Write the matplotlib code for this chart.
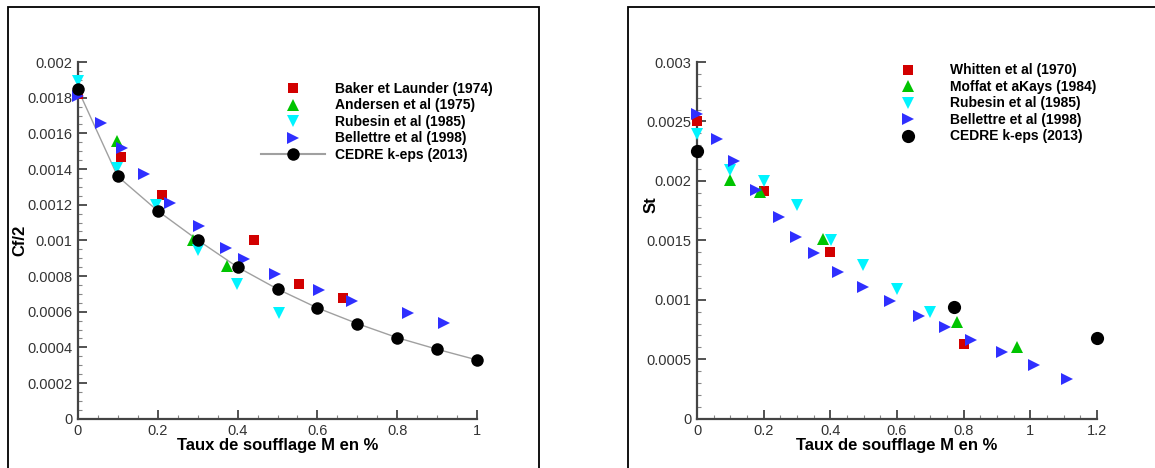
import matplotlib
matplotlib.use("Agg")
import matplotlib.pyplot as plt
from matplotlib.lines import Line2D
from matplotlib.patches import Rectangle
from matplotlib.ticker import MultipleLocator, FuncFormatter

plt.rcParams['font.family'] = ['Liberation Sans', 'DejaVu Sans']

# ---- left panel: Cf/2 ----
baker_x = [0.0, 0.108, 0.21, 0.44, 0.553, 0.663]
baker_y = [0.00182, 0.001465, 0.001252, 0.001000, 0.000757, 0.000677]
andersen_x = [0.098, 0.289, 0.373]
andersen_y = [0.001555, 0.001004, 0.000854]
rubesin_l_x = [0.0, 0.098, 0.197, 0.30, 0.399, 0.505]
rubesin_l_y = [0.001895, 0.001406, 0.001196, 0.000948, 0.000755, 0.000593]
bell_l_x = [0.0, 0.059, 0.11, 0.166, 0.232, 0.304, 0.372, 0.416, 0.494,
            0.604, 0.687, 0.827, 0.917]
bell_l_y = [0.001811, 0.001658, 0.001518, 0.001372, 0.001209, 0.001082,
            0.000957, 0.000893, 0.000813, 0.000723, 0.000658, 0.000591,
            0.000538]
cedre_l_x = [0.0, 0.1, 0.2, 0.3, 0.4, 0.5, 0.6, 0.7, 0.8, 0.9, 1.0]
cedre_l_y = [0.001849, 0.001359, 0.001166, 0.001002, 0.000850, 0.000727,
             0.000621, 0.000533, 0.000454, 0.000389, 0.000329]

# ---- right panel: St ----
whitten_x = [0.0, 0.20, 0.40, 0.80]
whitten_y = [0.002501, 0.001912, 0.001402, 0.000628]
moffat_x = [0.099, 0.189, 0.378, 0.779, 0.959]
moffat_y = [0.002010, 0.001904, 0.001514, 0.000813, 0.000606]
rubesin_r_x = [0.0, 0.099, 0.20, 0.299, 0.401, 0.499, 0.599, 0.698]
rubesin_r_y = [0.002397, 0.002094, 0.001996, 0.001794, 0.001500, 0.001295,
               0.001091, 0.000897]
bell_r_x = [0.0, 0.059, 0.111, 0.176, 0.246, 0.298, 0.352, 0.422, 0.497,
            0.578, 0.667, 0.745, 0.822, 0.914, 1.010, 1.110]
bell_r_y = [0.002565, 0.002355, 0.002167, 0.001926, 0.001699, 0.001528,
            0.001391, 0.001236, 0.001105, 0.000993, 0.000866, 0.000768,
            0.000664, 0.000561, 0.000454, 0.000336]
cedre_r_x = [0.0, 0.77, 1.2]
cedre_r_y = [0.002249, 0.000936, 0.000679]

RED = '#d20000'
GREEN = '#00c400'
CYAN = '#00f4ff'
BLUE = '#2f2fff'
AXC = '#444444'

fig = plt.figure(figsize=(11.55, 4.68), dpi=100)

# panel frames
for x0, w in [(8, 531), (628, 540)]:
    fig.patches.append(Rectangle((x0 / 1155, -0.05), w / 1155, (468 - 7) / 468 + 0.05,
                                 transform=fig.transFigure, fill=False,
                                 edgecolor='black', linewidth=1.3))

axl = fig.add_axes([77.7 / 1155, 1 - 418.7 / 468, 399.6 / 1155, 356.7 / 468])
axr = fig.add_axes([697 / 1155, 1 - 418.7 / 468, 400 / 1155, 356.7 / 468])

kw = dict(linestyle='none', markeredgewidth=0, clip_on=False)
axl.plot(cedre_l_x, cedre_l_y, '-', color='#a0a0a0', linewidth=1, zorder=2)
axl.plot(baker_x, baker_y, marker='s', markersize=6.8, color=RED, zorder=3, **kw)
axl.plot(andersen_x, andersen_y, marker='^', markersize=8, color=GREEN, zorder=3, **kw)
axl.plot(rubesin_l_x, rubesin_l_y, marker='v', markersize=8, color=CYAN, zorder=3, **kw)
axl.plot(bell_l_x, bell_l_y, marker='>', markersize=8, color=BLUE, zorder=3, **kw)
axl.plot(cedre_l_x, cedre_l_y, marker='o', markersize=9, color='black', zorder=4, **kw)

axr.plot(whitten_x, whitten_y, marker='s', markersize=6.8, color=RED, zorder=3, **kw)
axr.plot(moffat_x, moffat_y, marker='^', markersize=8, color=GREEN, zorder=3, **kw)
axr.plot(rubesin_r_x, rubesin_r_y, marker='v', markersize=8, color=CYAN, zorder=3, **kw)
axr.plot(bell_r_x, bell_r_y, marker='>', markersize=8, color=BLUE, zorder=4, **kw)
axr.plot(cedre_r_x, cedre_r_y, marker='o', markersize=9.5, color='black', zorder=5, **kw)

fmt = FuncFormatter(lambda v, p: '%g' % round(v, 6))
for ax, xmax, ymax, ymaj, ymin in [(axl, 1.0, 0.002, 0.0002, 0.00005),
                                   (axr, 1.2, 0.003, 0.0005, 0.0001)]:
    ax.set_xlim(0, xmax)
    ax.set_ylim(0, ymax)
    ax.xaxis.set_major_locator(MultipleLocator(0.2))
    ax.xaxis.set_minor_locator(MultipleLocator(0.05))
    ax.yaxis.set_major_locator(MultipleLocator(ymaj))
    ax.yaxis.set_minor_locator(MultipleLocator(ymin))
    ax.xaxis.set_major_formatter(fmt)
    ax.yaxis.set_major_formatter(fmt)
    for s in ['top', 'right']:
        ax.spines[s].set_visible(False)
    for s in ['left', 'bottom']:
        ax.spines[s].set_color(AXC)
        ax.spines[s].set_linewidth(1.6)
    ax.tick_params(which='major', direction='in', length=6.5, width=1.3,
                   color=AXC, labelsize=10.5, labelcolor='#333333', pad=4)
    ax.tick_params(which='minor', direction='in', length=3.2, width=0.8,
                   color='#888888')
    ax.set_xlabel('Taux de soufflage M en %', fontsize=12,
                  fontweight='bold', labelpad=0)

axl.set_ylabel('Cf/2', fontsize=12, fontweight='bold')
axl.yaxis.set_label_coords(-0.125, 0.5)
axr.set_ylabel('St', fontsize=12, fontweight='bold')
axr.yaxis.set_label_coords(-0.095, 0.6)


def handles(labels, colors, markers, sizes, line):
    hs = []
    for lab, c, m, ms in zip(labels, colors, markers, sizes):
        hs.append(Line2D([], [], linestyle='none', marker=m, markersize=ms,
                         color=c, markeredgewidth=0, label=lab))
    if line:
        hs[-1].set_linestyle('-')
        hs[-1].set_color('#a0a0a0')
        hs[-1].set_markerfacecolor('black')
    return hs


leg_kw = dict(frameon=False, loc='upper left', borderpad=0, handlelength=4.6,
              handletextpad=0.72, labelspacing=0.18,
              prop={'family': 'Liberation Sans', 'weight': 'bold', 'size': 10},
              bbox_transform=fig.transFigure, numpoints=1)

hl = handles(['Baker et Launder (1974)', 'Andersen et al (1975)',
              'Rubesin et al (1985)', 'Bellettre et al (1998)',
              'CEDRE k-eps (2013)'],
             [RED, GREEN, CYAN, BLUE, 'black'], ['s', '^', 'v', '>', 'o'],
             [6.8, 8, 8, 8, 9], True)
axl.legend(handles=hl, bbox_to_anchor=(254 / 1155, 1 - 75 / 468), **leg_kw)

hr = handles(['Whitten et al (1970)', 'Moffat et aKays (1984)',
              'Rubesin et al (1985)', 'Bellettre et al (1998)',
              'CEDRE k-eps (2013)'],
             [RED, GREEN, CYAN, BLUE, 'black'], ['s', '^', 'v', '>', 'o'],
             [6.8, 8, 8, 8, 9.5], False)
axr.legend(handles=hr, bbox_to_anchor=(869 / 1155, 1 - 56.5 / 468), **leg_kw)

fig.savefig('out.png', dpi=100)
